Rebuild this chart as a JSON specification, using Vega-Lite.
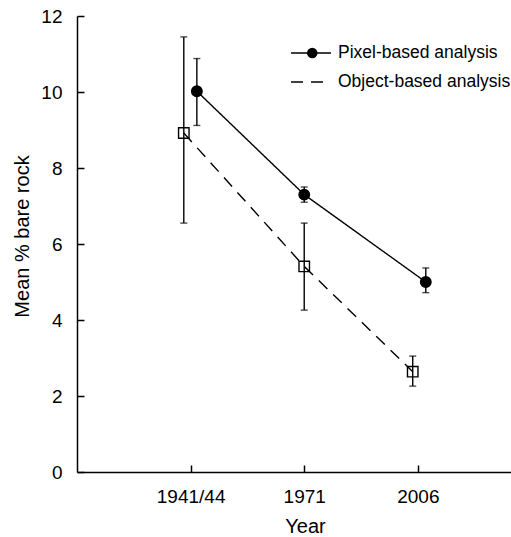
{
  "$schema": "https://vega.github.io/schema/vega-lite/v6.json",
  "autosize": "none",
  "width": 434,
  "height": 456,
  "padding": {"left": 77, "top": 16, "right": 0, "bottom": 65},
  "background": "white",
  "config": {
    "view": {"stroke": null},
    "font": "Liberation Sans",
    "axis": {"ticks": false, "grid": true, "gridColor": "black", "gridWidth": 1.5, "gridOpacity": 1, "domainColor": "black", "domainWidth": 1.5, "labelColor": "black", "titleColor": "black", "labelFontSize": 19, "titleFontSize": 20, "titleFontWeight": "normal", "labelFont": "Liberation Sans", "titleFont": "Liberation Sans"}
  },
  "data": {"values": [
    {"series": "Pixel-based analysis", "year": "1941/44", "xpos": 1.055, "mean": 10.02, "lo": 9.12, "hi": 10.88},
    {"series": "Pixel-based analysis", "year": "1971", "xpos": 2.0, "mean": 7.30, "lo": 7.10, "hi": 7.50},
    {"series": "Pixel-based analysis", "year": "2006", "xpos": 3.07, "mean": 5.00, "lo": 4.72, "hi": 5.37},
    {"series": "Object-based analysis", "year": "1941/44", "xpos": 0.94, "mean": 8.92, "lo": 6.55, "hi": 11.45},
    {"series": "Object-based analysis", "year": "1971", "xpos": 2.0, "mean": 5.41, "lo": 4.26, "hi": 6.55},
    {"series": "Object-based analysis", "year": "2006", "xpos": 2.955, "mean": 2.64, "lo": 2.26, "hi": 3.05}
  ]},
  "encoding": {
    "x": {"field": "xpos", "type": "quantitative", "scale": {"domain": [0, 3.82], "nice": false, "zero": false},
      "axis": {"values": [1, 2, 3], "labelExpr": "datum.value == 1 ? '1941/44' : datum.value == 2 ? '1971' : '2006'", "labelPadding": 15, "title": "Year", "titlePadding": 10, "titleX": 228, "labelFlush": false, "gridDash": [0, 449, 7, 2000]}}
  },
  "layer": [
    {
      "mark": {"type": "rule", "color": "black", "strokeWidth": 1.4},
      "encoding": {
        "y": {"field": "lo", "type": "quantitative", "scale": {"domain": [0, 12], "nice": false},
          "axis": {"values": [0, 2, 4, 6, 8, 10, 12], "labelPadding": 15, "title": "Mean % bare rock", "titlePadding": 8, "titleY": 220, "gridDash": [7, 2000]}},
        "y2": {"field": "hi"}
      }
    },
    {
      "mark": {"type": "tick", "color": "black", "orient": "horizontal", "size": 7, "thickness": 1.4},
      "encoding": {"y": {"field": "lo", "type": "quantitative"}}
    },
    {
      "mark": {"type": "tick", "color": "black", "orient": "horizontal", "size": 7, "thickness": 1.4},
      "encoding": {"y": {"field": "hi", "type": "quantitative"}}
    },
    {
      "mark": {"type": "line", "color": "black", "strokeWidth": 1.4},
      "encoding": {
        "y": {"field": "mean", "type": "quantitative"},
        "strokeDash": {"field": "series", "type": "nominal",
          "scale": {"domain": ["Pixel-based analysis", "Object-based analysis"], "range": [[1, 0], [12, 8]]},
          "legend": {
            "title": null, "orient": "none", "legendX": 213, "legendY": 22.5,
            "labelFontSize": 17.5, "labelFont": "Liberation Sans", "labelColor": "black", "labelLimit": 260,
            "labelOffset": 6, "rowPadding": 0, "padding": 0, "clipHeight": 29, "symbolSize": 1600,
            "symbolStrokeWidth": 1.4, "symbolStrokeColor": "black"
          }
        }
      }
    },
    {
      "mark": {"type": "point", "filled": true, "stroke": "black", "size": 110, "strokeWidth": 1.4, "opacity": 1},
      "encoding": {
        "y": {"field": "mean", "type": "quantitative"},
        "shape": {"field": "series", "type": "nominal",
          "scale": {"domain": ["Object-based analysis", "Pixel-based analysis"], "range": ["square", "circle"]},
          "legend": {
            "title": null, "orient": "none", "legendX": 226.5, "legendY": 22.5,
            "values": ["Pixel-based analysis", "Object-based analysis"],
            "labelExpr": "''",
            "labelFontSize": 17.5, "labelFont": "Liberation Sans", "labelColor": "transparent", "labelLimit": 260,
            "labelOffset": 8, "rowPadding": 0, "padding": 0, "clipHeight": 29, "symbolSize": 110,
            "symbolStrokeWidth": 1.4, "symbolStrokeColor": "black"
          }
        },
        "fill": {"field": "series", "type": "nominal",
          "scale": {"domain": ["Object-based analysis", "Pixel-based analysis"], "range": ["transparent", "black"]},
          "legend": {
            "title": null, "orient": "none", "legendX": 226.5, "legendY": 22.5,
            "values": ["Pixel-based analysis", "Object-based analysis"],
            "labelExpr": "''",
            "labelFontSize": 17.5, "labelFont": "Liberation Sans", "labelColor": "transparent", "labelLimit": 260,
            "labelOffset": 8, "rowPadding": 0, "padding": 0, "clipHeight": 29, "symbolSize": 110,
            "symbolStrokeWidth": 1.4, "symbolStrokeColor": "black"
          }
        }
      }
    }
  ]
}
